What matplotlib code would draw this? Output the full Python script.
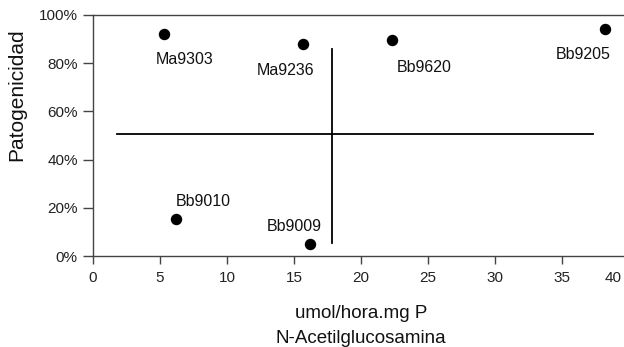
import matplotlib
matplotlib.use("Agg")
import matplotlib.pyplot as plt
import matplotlib.transforms as mtransforms
from matplotlib.ticker import PercentFormatter

# cepas: actividad N-acetilglucosamina vs patogenicidad
cepas = ['Ma9303', 'Ma9236', 'Bb9620', 'Bb9205', 'Bb9010', 'Bb9009']
actividad = [5.3, 15.7, 22.3, 38.2, 6.2, 16.2]
patogenicidad = [92.0, 88.0, 89.5, 94.3, 15.2, 4.9]

# lineas de referencia (cuadrantes)
linea_h_y = 50.6
linea_h_x = [1.8, 37.3]
linea_v_x = 17.8
linea_v_y = [5.5, 86.0]

x_ticks = [0, 5, 10, 15, 20, 25, 30, 35, 40]
y_ticks = [0, 20, 40, 60, 80, 100]

# desplazamiento de cada etiqueta respecto a su punto (pixeles)
offsets = [(21, -25), (-18, -27), (32, -27), (-22, -26), (27, 18), (-16, 18)]


def graficar():
    plt.rcParams['font.family'] = ['Liberation Sans', 'DejaVu Sans']
    fig = plt.figure(figsize=(6.24, 3.47), dpi=100)
    ax = fig.add_axes([93 / 624, 91 / 347, 536 / 624, 241 / 347])

    ax.scatter(actividad, patogenicidad, s=52, color='black', zorder=3)
    for nombre, x, y, off in zip(cepas, actividad, patogenicidad, offsets):
        ax.annotate(nombre, (x, y), xytext=off, textcoords='offset pixels',
                    ha='center', va='center', fontsize=11.5, color='#111111')

    ax.plot(linea_h_x, [linea_h_y, linea_h_y], color='black', lw=1.3)
    ax.plot([linea_v_x, linea_v_x], linea_v_y, color='black', lw=1.3)

    ax.set_xlim(0, 40)
    ax.set_ylim(0, 100)
    ax.set_xticks(x_ticks)
    ax.set_yticks(y_ticks)
    ax.yaxis.set_major_formatter(PercentFormatter(decimals=0))

    for lado in ['left', 'bottom', 'top']:
        ax.spines[lado].set_color('#444444')
        ax.spines[lado].set_linewidth(1.0)
    ax.spines['right'].set_visible(False)

    ax.tick_params(axis='y', length=7, width=1, color='#444444',
                   labelsize=11, labelcolor='#222222', pad=4)
    ax.tick_params(axis='x', length=6, width=1, color='#444444',
                   labelsize=11, labelcolor='#222222', pad=5)
    # the 40 tick sits just past the figure edge; pull its label inside
    ultimo = ax.get_xticklabels()[-1]
    ultimo.set_horizontalalignment('right')
    ultimo.set_transform(ultimo.get_transform() +
                         mtransforms.ScaledTranslation(-7 / 100, 0, fig.dpi_scale_trans))

    ax.set_ylabel('Patogenicidad', fontsize=15, color='#111111')
    ax.yaxis.set_label_coords(-67 / 536, 0.668)
    ax.set_xlabel('umol/hora.mg P\nN-Acetilglucosamina', fontsize=13.5,
                  color='#111111', labelpad=14, linespacing=1.6)

    fig.savefig('out.png', dpi=100)


def main():
    graficar()


if __name__ == '__main__':
    main()
